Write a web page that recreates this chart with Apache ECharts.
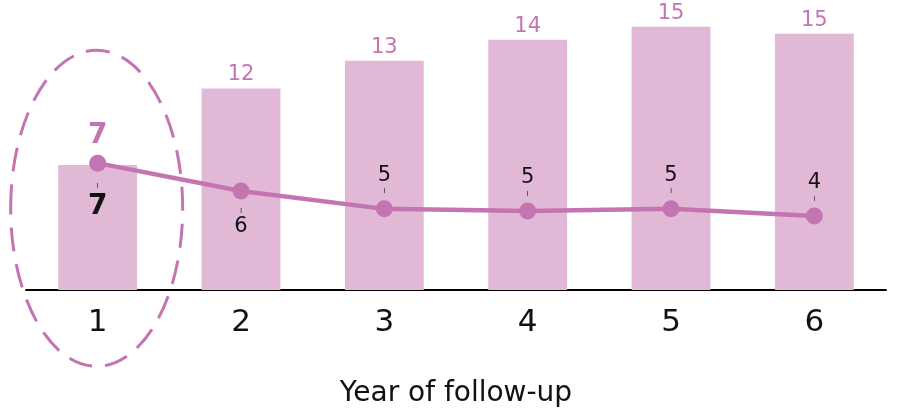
<!DOCTYPE html>
<html>
<head>
<meta charset="utf-8">
<script src="https://cdn.jsdelivr.net/npm/echarts@6/dist/echarts.min.js"></script>
<style>
    html, body { margin: 0; padding: 0; background: #fff; }
    #main { width: 917px; height: 412px; }
</style>
</head>
<body>
<div id="main"></div>
<script type="text/javascript">
    // 数据
    var years = ['1', '2', '3', '4', '5', '6'];
    var barValues = [7.2, 11.6, 13.2, 14.4, 15.15, 14.75];
    var lineValues = [7.3, 5.7, 4.67, 4.55, 4.67, 4.26];

    var fontFam = '"DejaVu Sans", sans-serif';
    var pink = '#c474b0';
    var barPink = '#e1b9d6';

    var barData = [];
    for (var i = 0; i < barValues.length; i++) {
        var item = {value: barValues[i]};
        if (i === 0) {
            item.label = {fontWeight: 'bold', fontSize: 28, distance: 15};
        }
        barData.push(item);
    }
    // 标签上加一小竖线
    var lineData = [];
    for (var j = 0; j < lineValues.length; j++) {
        var it = {value: lineValues[j]};
        if (j === 0) {
            it.label = {
                position: 'bottom', distance: 10,
                formatter: function (p) { return '{t|ı}\n{b|' + Math.round(p.value) + '}'; }
            };
        } else if (j === 1) {
            it.label = {
                position: 'bottom', distance: 7,
                formatter: function (p) { return '{t|ı}\n{n|' + Math.round(p.value) + '}'; }
            };
        }
        lineData.push(it);
    }

    var myChart = echarts.init(document.getElementById('main'));
    myChart.setOption({
        animation: false,
        textStyle: {fontFamily: fontFam},
        grid: {
            left: 26,
            right: 31,
            top: 12,
            bottom: 122,
            containLabel: false,
            outerBoundsMode: 'none'
        },
        xAxis: {
            type: 'category',
            data: years,
            name: 'Year of follow-up',
            nameLocation: 'middle',
            nameGap: 90,
            nameTextStyle: {fontSize: 28, color: '#111', fontFamily: fontFam},
            axisLine: {lineStyle: {color: '#000', width: 2}},
            axisTick: {show: false},
            axisLabel: {fontSize: 31, color: '#111', margin: 17, fontFamily: fontFam}
        },
        yAxis: {
            type: 'value',
            min: 0,
            max: 16,
            show: false
        },
        series: [
            {
                type: 'bar',
                data: barData,
                barWidth: '55%',
                itemStyle: {color: barPink},
                label: {
                    show: true,
                    position: 'top',
                    distance: 3,
                    color: pink,
                    fontSize: 21,
                    fontFamily: fontFam,
                    formatter: function (p) { return Math.round(p.value); }
                }
            },
            {
                type: 'line',
                data: lineData,
                symbol: 'circle',
                symbolSize: 17,
                itemStyle: {color: pink},
                lineStyle: {color: pink, width: 4.5},
                label: {
                    show: true,
                    position: 'top',
                    distance: 5,
                    color: '#111',
                    fontFamily: fontFam,
                    formatter: function (p) { return '{n|' + Math.round(p.value) + '}\n{t|ı}'; },
                    rich: {
                        n: {fontSize: 21, lineHeight: 24, color: '#111', fontFamily: fontFam},
                        b: {fontSize: 28, lineHeight: 34, fontWeight: 'bold', color: '#111', fontFamily: fontFam},
                        t: {fontSize: 8, lineHeight: 8, color: '#333', fontFamily: fontFam}
                    }
                },
                z: 3
            }
        ]
    });

    // 虚线椭圆标注第一年
    var c = myChart.convertToPixel({gridIndex: 0}, [0, 4.7]);
    myChart.setOption({
        graphic: [{
            type: 'ellipse',
            shape: {cx: c[0] - 1, cy: c[1], rx: 86, ry: 158},
            style: {
                fill: null,
                stroke: pink,
                lineWidth: 3,
                lineDash: [24, 13]
            },
            z: 10
        }]
    });
</script>
</body>
</html>
